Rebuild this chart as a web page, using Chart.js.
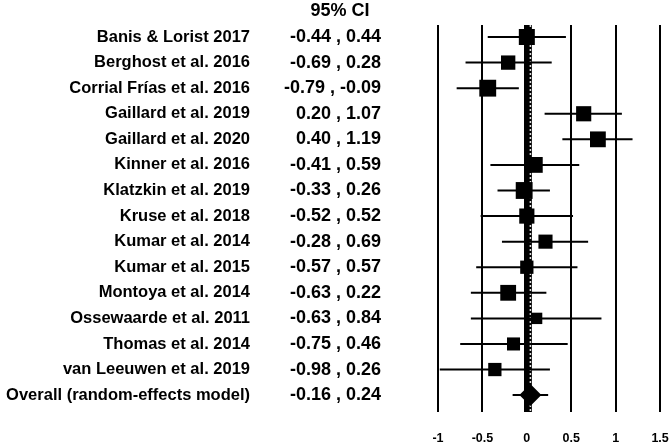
<!DOCTYPE html>
<html>
<head>
<meta charset="utf-8">
<script src="https://cdn.jsdelivr.net/npm/chart.js@4"></script>
<style>
  html, body { margin: 0; padding: 0; background: #fff; overflow: hidden; }
  canvas { display: block; }
</style>
</head>
<body>
<canvas id="chart" width="672" height="446"></canvas>
<script>
const studies = [
  'Banis & Lorist 2017', 'Berghost et al. 2016', 'Corrial Frías et al. 2016',
  'Gaillard et al. 2019', 'Gaillard et al. 2020', 'Kinner et al. 2016',
  'Klatzkin et al. 2019', 'Kruse et al. 2018', 'Kumar et al. 2014',
  'Kumar et al. 2015', 'Montoya et al. 2014', 'Ossewaarde et al. 2011',
  'Thomas et al. 2014', 'van Leeuwen et al. 2019', 'Overall (random-effects model)'
]
const lower = [-0.44, -0.69, -0.79, 0.20, 0.40, -0.41, -0.33, -0.52, -0.28, -0.57, -0.63, -0.63, -0.75, -0.98, -0.16]
const upper = [0.44, 0.28, -0.09, 1.07, 1.19, 0.59, 0.26, 0.52, 0.69, 0.57, 0.22, 0.84, 0.46, 0.26, 0.24]
const estimate = [0.00, -0.21, -0.44, 0.64, 0.80, 0.09, -0.03, 0.00, 0.21, 0.00, -0.21, 0.11, -0.15, -0.36, 0.04]
const weights = [7.6, 6.8, 8.0, 7.2, 7.5, 7.5, 8.0, 7.2, 6.7, 6.3, 7.5, 5.4, 6.2, 6.3]
const xTicks = [-1, -0.5, 0, 0.5, 1, 1.5]
const ciHeader = '95% CI'

const yMin = -0.47
const yMax = 14.66
const overallIdx = studies.length - 1
const fontFamily = '"Liberation Sans", Arial, sans-serif'

function fmt(v) {
  return v.toFixed(2)
}

const whiskers = studies.map((s, i) => ({
  type: 'scatter',
  data: [{ x: lower[i], y: i }, { x: upper[i], y: i }],
  showLine: true,
  borderColor: '#000',
  borderWidth: 2,
  pointRadius: 0,
  order: 2
}))

const squares = {
  type: 'scatter',
  data: studies.map((s, i) => ({ x: estimate[i], y: i })),
  pointStyle: studies.map((s, i) => i === overallIdx ? 'rectRot' : 'rect'),
  pointRadius: studies.map((s, i) => i === overallIdx ? 11 : weights[i] * 1.49),
  backgroundColor: '#000',
  borderWidth: 0,
  order: 0
}

const overallLineBase = {
  type: 'scatter',
  data: [{ x: estimate[overallIdx], y: yMin }, { x: estimate[overallIdx], y: yMax }],
  showLine: true,
  borderColor: '#000',
  borderWidth: 3,
  pointRadius: 0,
  order: 4
}
const overallLineDots = {
  type: 'scatter',
  data: [{ x: estimate[overallIdx], y: yMin }, { x: estimate[overallIdx], y: yMax }],
  showLine: true,
  borderColor: '#ddd',
  borderWidth: 1.5,
  borderDash: [2, 2],
  pointRadius: 0,
  order: 3
}

const textColumns = {
  id: 'textColumns',
  afterDraw(chart) {
    const ctx = chart.ctx
    const yScale = chart.scales.y
    ctx.save()
    ctx.fillStyle = '#000'
    ctx.textBaseline = 'middle'
    ctx.font = 'bold 18px ' + fontFamily
    ctx.textAlign = 'center'
    ctx.fillText(ciHeader, 340, 11)
    studies.forEach((s, i) => {
      const y = yScale.getPixelForValue(i)
      ctx.font = 'bold 16.5px ' + fontFamily
      ctx.textAlign = 'right'
      ctx.fillText(s, 250, y)
      ctx.font = 'bold 18px ' + fontFamily
      ctx.fillText(fmt(lower[i]) + ' , ' + fmt(upper[i]), 381, y)
    })
    ctx.restore()
  }
}

const ctx = document.getElementById('chart')
new Chart(ctx, {
  data: { datasets: [squares, ...whiskers, overallLineDots, overallLineBase] },
  options: {
    responsive: false,
    animation: false,
    layout: { padding: { left: 438, right: 0, top: 25, bottom: -2 } },
    plugins: { legend: { display: false }, tooltip: { enabled: false } },
    scales: {
      x: {
        type: 'linear',
        min: -1,
        max: 1.5,
        afterBuildTicks: (axis) => { axis.ticks = xTicks.map(v => ({ value: v })) },
        border: { display: false },
        grid: {
          color: '#000',
          lineWidth: (c) => c.tick && c.tick.value === 0 ? 5 : 2,
          drawTicks: true,
          tickLength: 17,
          tickColor: 'rgba(0,0,0,0)'
        },
        ticks: {
          padding: 2,
          color: '#000',
          font: { family: fontFamily, size: 12.5, weight: 'bold' },
          callback: (v) => String(v)
        }
      },
      y: {
        type: 'linear',
        min: yMin,
        max: yMax,
        reverse: true,
        display: false
      }
    }
  },
  plugins: [textColumns]
})
</script>
</body>
</html>
